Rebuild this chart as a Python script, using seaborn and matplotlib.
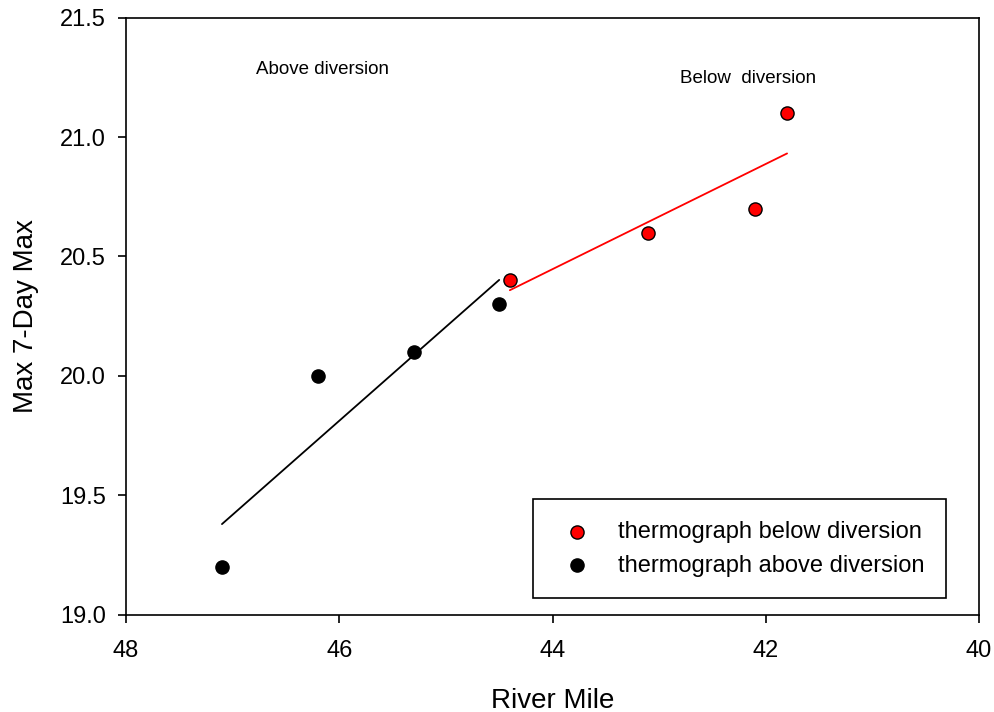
import matplotlib
matplotlib.use("Agg")
import matplotlib.pyplot as plt
import seaborn as sns
import numpy as np
import pandas as pd

above_mile = [47.1, 46.2, 45.3, 44.5]
above_temp = [19.2, 20.0, 20.1, 20.3]
below_mile = [44.4, 43.1, 42.1, 41.8]
below_temp = [20.4, 20.6, 20.7, 21.1]

x_ticks = [48, 46, 44, 42, 40]
y_ticks = [19.0, 19.5, 20.0, 20.5, 21.0, 21.5]

sns.set_style("white")
plt.rcParams['font.family'] = ['Liberation Sans', 'DejaVu Sans']
plt.rcParams['text.color'] = 'black'
plt.rcParams['axes.labelcolor'] = 'black'
plt.rcParams['xtick.color'] = 'black'
plt.rcParams['ytick.color'] = 'black'

df_above = pd.DataFrame({"mile": above_mile, "temp": above_temp})
df_below = pd.DataFrame({"mile": below_mile, "temp": below_temp})

fig = plt.figure(figsize=(9.95, 7.12), dpi=100)
ax = fig.add_axes([126/995, 1-614.5/712, (979-126)/995, (614.5-17.7)/712])

sns.regplot(data=df_above, x="mile", y="temp", scatter=False, ci=None,
            color="black", line_kws={"lw": 1.3}, ax=ax)
sns.regplot(data=df_below, x="mile", y="temp", scatter=False, ci=None,
            color="red", line_kws={"lw": 1.3}, ax=ax)

sns.scatterplot(data=df_below, x="mile", y="temp", color="red", edgecolor="black",
                linewidth=1.0, s=90, ax=ax, label="thermograph below diversion", zorder=3)
sns.scatterplot(data=df_above, x="mile", y="temp", color="black", edgecolor="black",
                linewidth=1.0, s=90, ax=ax, label="thermograph above diversion", zorder=3)

ax.set_xlim(48, 40)
ax.set_ylim(19.0, 21.5)
ax.set_xticks(x_ticks)
ax.set_xticklabels([f"{v}" for v in x_ticks])
ax.set_yticks(y_ticks)
ax.set_yticklabels([f"{v:.1f}" for v in y_ticks])

for sp in ax.spines.values():
    sp.set_visible(True)
    sp.set_color("black")
    sp.set_linewidth(1.2)

ax.tick_params(axis="both", which="major", direction="out", length=6, width=1.2,
               labelsize=17, color="black", labelcolor="black",
               bottom=True, left=True, top=False, right=False)
ax.tick_params(axis="x", pad=12.5)
ax.tick_params(axis="y", pad=8.5)

ax.set_xlabel("River Mile", fontsize=20, labelpad=18.5)
ax.set_ylabel("Max 7-Day Max", fontsize=20, labelpad=15)

ax.text(46.78, 21.285, "Above diversion", fontsize=13.5, ha="left", va="center")
ax.text(42.80, 21.245, "Below  diversion", fontsize=13.5, ha="left", va="center")

leg = ax.legend(loc="lower right", bbox_to_anchor=(0.961, 0.027), fontsize=17,
                frameon=True, fancybox=False, edgecolor="black", borderpad=0.92,
                handletextpad=0.75, labelspacing=0.5, markerscale=1.0,
                borderaxespad=0, handlelength=1.89)
leg.get_frame().set_linewidth(1.2)
leg.get_frame().set_alpha(1)

fig.savefig("out.png", dpi=100)
